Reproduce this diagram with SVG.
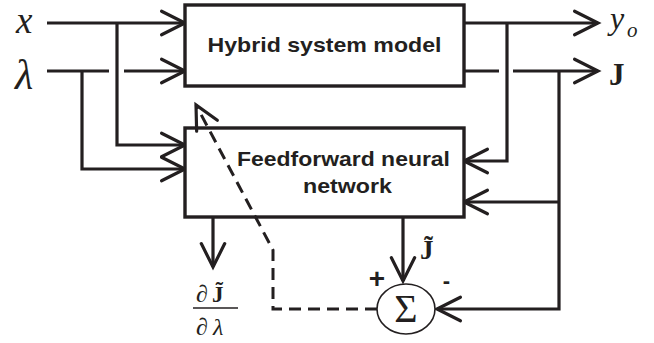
<svg xmlns="http://www.w3.org/2000/svg" width="654" height="343" viewBox="0 0 654 343">
<style>
.ln{fill:none;stroke:#231f20;stroke-width:3.2}
.box{fill:#fff;stroke:#231f20;stroke-width:3.4}
.dash{fill:none;stroke:#231f20;stroke-width:3;stroke-dasharray:12 7}
.lbl{font-family:"Liberation Sans",Arial,sans-serif;font-weight:bold;fill:#231f20}
.ser{font-family:"Liberation Serif","Times New Roman",serif;fill:#231f20}
.it{font-style:italic}
.bd{font-weight:bold}
</style>
<defs>
<marker id="ah" markerUnits="userSpaceOnUse" markerWidth="30" markerHeight="30" refX="0" refY="0" viewBox="-30 -15 32 30" orient="auto" overflow="visible">
<path d="M-25,-12.5 L0,0 L-25,12.5" fill="none" stroke="#231f20" stroke-width="3.4" stroke-linecap="round" stroke-linejoin="miter" stroke-dasharray="none"/>
</marker>
</defs>
<g id="connectors">
<path class="ln" d="M47,23 H185" marker-end="url(#ah)"/>
<path class="ln" d="M117,23 V145 H185" marker-end="url(#ah)"/>
<path class="ln" d="M47,71 H109"/>
<path class="ln" d="M124,71 H185" marker-end="url(#ah)"/>
<path class="ln" d="M82,71 V169 H185" marker-end="url(#ah)"/>
<path class="ln" d="M464,23 H598" marker-end="url(#ah)"/>
<path class="ln" d="M464,71 H499"/>
<path class="ln" d="M513,71 H598" marker-end="url(#ah)"/>
<path class="ln" d="M507,23 V161 H464" marker-end="url(#ah)"/>
<path class="ln" d="M559,71 V309 H437" marker-end="url(#ah)"/>
<path class="ln" d="M559,202 H464" marker-end="url(#ah)"/>
<path class="ln" d="M403,217 V281" marker-end="url(#ah)"/>
<path class="ln" d="M213,217 V267" marker-end="url(#ah)"/>
</g>
<g id="hybrid">
<rect class="box" x="185" y="5" width="279" height="81"/>
<text class="lbl" x="324.5" y="52" font-size="21" text-anchor="middle" textLength="234" lengthAdjust="spacingAndGlyphs">Hybrid system model</text>
</g>
<g id="ffnn">
<rect class="box" x="185" y="128" width="279" height="89"/>
<text class="lbl" x="343.5" y="166" font-size="20" text-anchor="middle" textLength="213" lengthAdjust="spacingAndGlyphs">Feedforward neural</text>
<text class="lbl" x="347.5" y="193" font-size="20" text-anchor="middle" textLength="89" lengthAdjust="spacingAndGlyphs">network</text>
</g>
<g id="feedback">
<path class="dash" d="M377,309 H273 V250 L196,105" marker-end="url(#ah)"/>
</g>
<g id="sum">
<ellipse cx="406" cy="309" rx="29" ry="25" fill="#fff" stroke="#231f20" stroke-width="1.6"/>
<text class="ser" x="406" y="322" font-size="40" text-anchor="middle">Σ</text>
<text class="lbl" x="377" y="288" font-size="28" text-anchor="middle">+</text>
<text class="lbl" x="446.5" y="288" font-size="22" text-anchor="middle">-</text>
</g>
<g id="labels">
<text class="ser it" x="16" y="33" font-size="37">x</text>
<text class="ser it" x="15" y="89" font-size="42">λ</text>
<text class="ser it" x="610" y="29" font-size="32">y</text>
<text class="ser it" x="627" y="37" font-size="21">o</text>
<text class="ser bd" x="609" y="85" font-size="31">J</text>
<text class="ser bd" x="420" y="259" font-size="27">J̃</text>
<text class="ser" x="196" y="302" font-size="24">∂</text>
<text class="ser bd" x="212" y="302" font-size="23">J̃</text>
<line x1="193" y1="308" x2="238" y2="308" stroke="#231f20" stroke-width="1.6"/>
<text class="ser" x="196" y="335" font-size="24">∂</text>
<text class="ser it" x="213" y="335" font-size="24">λ</text>
</g>
</svg>
